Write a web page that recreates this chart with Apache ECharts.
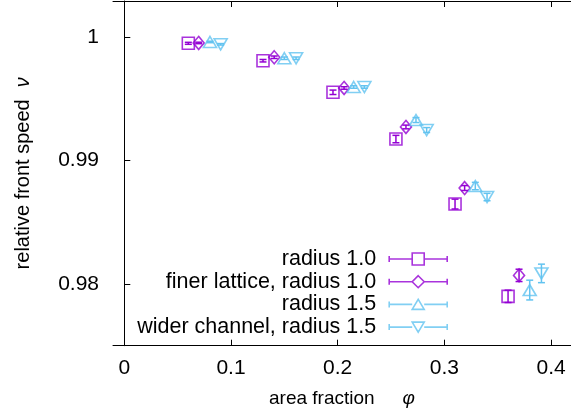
<!DOCTYPE html>
<html>
<head>
<meta charset="utf-8">
<script src="https://cdn.jsdelivr.net/npm/echarts@6/dist/echarts.min.js"></script>
<style>
  html, body { margin: 0; padding: 0; background: #fff; }
  #main { width: 571px; height: 419px; }
</style>
</head>
<body>
<div id="main"></div>
<script>
var myChart = echarts.init(document.getElementById('main'));

var xTicks = [0, 0.1, 0.2, 0.3, 0.4];
var yTicks = [0.98, 0.99, 1];

var seriesNames = ['radius 1.0', 'finer lattice, radius 1.0', 'radius 1.5', 'wider channel, radius 1.5'];

var phiR10 = [0.060, 0.130, 0.1956, 0.2546, 0.310, 0.3597];
var vR10 = [0.99951, 0.99810, 0.99554, 0.99175, 0.98648, 0.97900];
var errR10 = [0.00008, 0.0001, 0.00018, 0.0003, 0.0004, 0.0005];

var phiFine = [0.0697, 0.1405, 0.206, 0.264, 0.319, 0.370];
var vFine = [0.99954, 0.99838, 0.99589, 0.99273, 0.98778, 0.98070];
var errFine = [0.00006, 0.0001, 0.0001, 0.00015, 0.0002, 0.0005];

var phiR15 = [0.0803, 0.150, 0.215, 0.2734, 0.329, 0.380];
var vR15 = [0.99962, 0.99830, 0.99597, 0.99329, 0.98794, 0.97951];
var errR15 = [0.00006, 0.0001, 0.0001, 0.0002, 0.0003, 0.0008];

var phiWide = [0.0903, 0.161, 0.225, 0.2834, 0.340, 0.391];
var vWide = [0.99943, 0.99830, 0.99597, 0.99248, 0.98705, 0.98086];
var errWide = [0.00006, 0.0001, 0.0001, 0.0002, 0.0003, 0.00075];

var purple = '#9400d3';
var blue = '#62c3f0';
var font = '"Liberation Sans", Arial, Helvetica, sans-serif';

function rows(xs, ys, es) {
	var out = [];
	for (var i = 0; i < xs.length; i++) {
		out.push([xs[i], ys[i], es[i]]);
	}
	return out;
}

// vertical error bar with small caps
function errorBar(params, api) {
	var x = api.value(0), y = api.value(1), e = api.value(2);
	var hi = api.coord([x, y + e]);
	var lo = api.coord([x, y - e]);
	var w = 3.5;
	var style = { stroke: api.visual('color'), lineWidth: 1.5, fill: null };
	return {
		type: 'group',
		children: [
			{ type: 'line', shape: { x1: hi[0], y1: hi[1], x2: lo[0], y2: lo[1] }, style: style },
			{ type: 'line', shape: { x1: hi[0] - w, y1: hi[1], x2: hi[0] + w, y2: hi[1] }, style: style },
			{ type: 'line', shape: { x1: lo[0] - w, y1: lo[1], x2: lo[0] + w, y2: lo[1] }, style: style }
		]
	};
}

var bar = 'M0,0M0,12M0,3V9M0,6H23M35,6H58M58,3V9';
var legendIcons = [
	'path://' + bar + 'M23,0H35V12H23Z',
	'path://' + bar + 'M29,0L35,6L29,12L23,6Z',
	'path://' + bar + 'M23,11L29,1L35,11Z',
	'path://' + bar + 'M23,1L35,1L29,11Z'
];
var colors = [purple, purple, blue, blue];
var data = [rows(phiR10, vR10, errR10), rows(phiFine, vFine, errFine),
	rows(phiR15, vR15, errR15), rows(phiWide, vWide, errWide)];
var symbols = ['rect', 'diamond', 'triangle', 'triangle'];
var symbolSizes = [[12, 12], [11, 13], [13, 11], [13, 11]];
var rotates = [0, 0, 0, 180];

var series = [];
for (var k = 0; k < 4; k++) {
	series.push({
		name: seriesNames[k] + ' err',
		type: 'custom',
		renderItem: errorBar,
		itemStyle: { color: colors[k] },
		encode: { x: 0, y: 1 },
		data: data[k],
		z: 3
	});
	series.push({
		name: seriesNames[k],
		type: 'scatter',
		symbol: symbols[k],
		symbolSize: symbolSizes[k],
		symbolRotate: rotates[k],
		itemStyle: { color: 'rgba(0,0,0,0)', borderColor: colors[k], borderWidth: 1.6 },
		data: data[k],
		z: 2
	});
}

var legendData = [];
for (var j = 0; j < 4; j++) {
	legendData.push({
		name: seriesNames[j],
		icon: legendIcons[j],
		itemStyle: { color: 'rgba(0,0,0,0)', borderColor: colors[j], borderWidth: 1.6 }
	});
}

var axisLine = { show: true, lineStyle: { color: '#000', width: 1 } };

option = {
	animation: false,
	backgroundColor: '#fff',
	grid: { left: 113, right: 0, top: 1, bottom: 73.3 },
	legend: {
		data: legendData,
		orient: 'vertical',
		align: 'right',
		right: 123,
		top: 248,
		padding: 0,
		itemWidth: 58,
		itemHeight: 12,
		itemGap: 0.7,
		selectedMode: false,
		textStyle: { fontFamily: font, fontSize: 21.5, color: '#000', lineHeight: 21, padding: [0, 8, 0, 0] }
	},
	xAxis: [{
		type: 'value',
		position: 'bottom',
		min: -0.0106,
		max: 0.4187,
		axisLine: axisLine,
		axisTick: { show: true, inside: true, length: 6, customValues: xTicks, lineStyle: { color: '#000' } },
		axisLabel: {
			customValues: xTicks, margin: 12, fontFamily: font, fontSize: 21, color: '#000',
			formatter: function (v) { return String(v); }
		},
		splitLine: { show: false },
		name: '{a|area fraction}{b|φ}',
		nameLocation: 'middle',
		nameGap: 44,
		nameTextStyle: {
			rich: {
				a: { fontFamily: font, fontSize: 19, color: '#000' },
				b: { fontFamily: font, fontSize: 19, color: '#000', fontStyle: 'italic', padding: [0, 0, 0, 28] }
			}
		}
	}, {
		type: 'value',
		position: 'top',
		min: -0.0106,
		max: 0.4187,
		axisLine: axisLine,
		axisTick: { show: true, inside: true, length: 6, customValues: xTicks, lineStyle: { color: '#000' } },
		axisLabel: { show: false },
		splitLine: { show: false }
	}],
	yAxis: {
		type: 'value',
		min: 0.975,
		max: 1.00294,
		axisLine: axisLine,
		axisTick: { show: true, inside: true, length: 6, customValues: yTicks, lineStyle: { color: '#000' } },
		axisLabel: {
			customValues: yTicks, margin: 14, fontFamily: font, fontSize: 21, color: '#000',
			formatter: function (v) { return String(v); }
		},
		splitLine: { show: false },
		name: '{a|relative front speed}{b|ν}',
		nameLocation: 'middle',
		nameRotate: 90,
		nameGap: 80,
		nameTextStyle: {
			rich: {
				a: { fontFamily: font, fontSize: 20, color: '#000' },
				b: { fontFamily: font, fontSize: 20, color: '#000', fontStyle: 'italic', padding: [0, 0, 0, 12] }
			}
		}
	},
	series: series
};

myChart.setOption(option);
window.onresize = myChart.resize;
</script>
</body>
</html>
